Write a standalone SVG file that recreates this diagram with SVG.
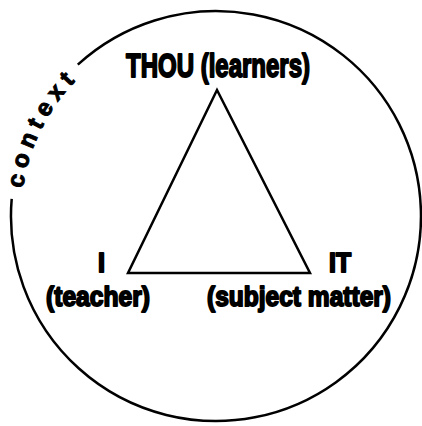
<svg xmlns="http://www.w3.org/2000/svg" width="422" height="426" viewBox="0 0 422 426">
<style>
.lbl{font-family:"Liberation Sans",Arial,sans-serif;font-weight:bold;fill:#000;stroke:#000;stroke-width:1.9;stroke-linejoin:round}
.ctx{font-family:"Liberation Sans",Arial,sans-serif;font-weight:bold;fill:#000;stroke:#000;stroke-width:1}
.line{fill:none;stroke:#000;stroke-width:2.5}
</style>
<defs>
<path id="ctxPath" d="M21.75,198.5 A195,195 0 0 1 90.7,66.6"/>
</defs>
<rect width="422" height="426" fill="#fff"/>
<g id="context">
<path class="line" d="M77.8,64.6 A205,205 0 1 1 11.7,198.8"/>
<text class="ctx" font-size="24" letter-spacing="6"><textPath href="#ctxPath" startOffset="10">context</textPath></text>
</g>
<g id="connectors">
<polygon class="line" points="217,90 310,273 128,273" stroke-linejoin="miter"/>
</g>
<g id="node-thou">
<text class="lbl" x="126" y="77" font-size="33" textLength="184" lengthAdjust="spacingAndGlyphs">THOU (learners)</text>
</g>
<g id="node-i">
<text class="lbl" x="98" y="272" font-size="27" textLength="7" lengthAdjust="spacingAndGlyphs">I</text>
<text class="lbl" x="46" y="306" font-size="28" textLength="104" lengthAdjust="spacingAndGlyphs">(teacher)</text>
</g>
<g id="node-it">
<text class="lbl" x="329" y="272" font-size="27" textLength="22" lengthAdjust="spacingAndGlyphs">IT</text>
<text class="lbl" x="207" y="306" font-size="28" textLength="184" lengthAdjust="spacingAndGlyphs">(subject matter)</text>
</g>
</svg>
